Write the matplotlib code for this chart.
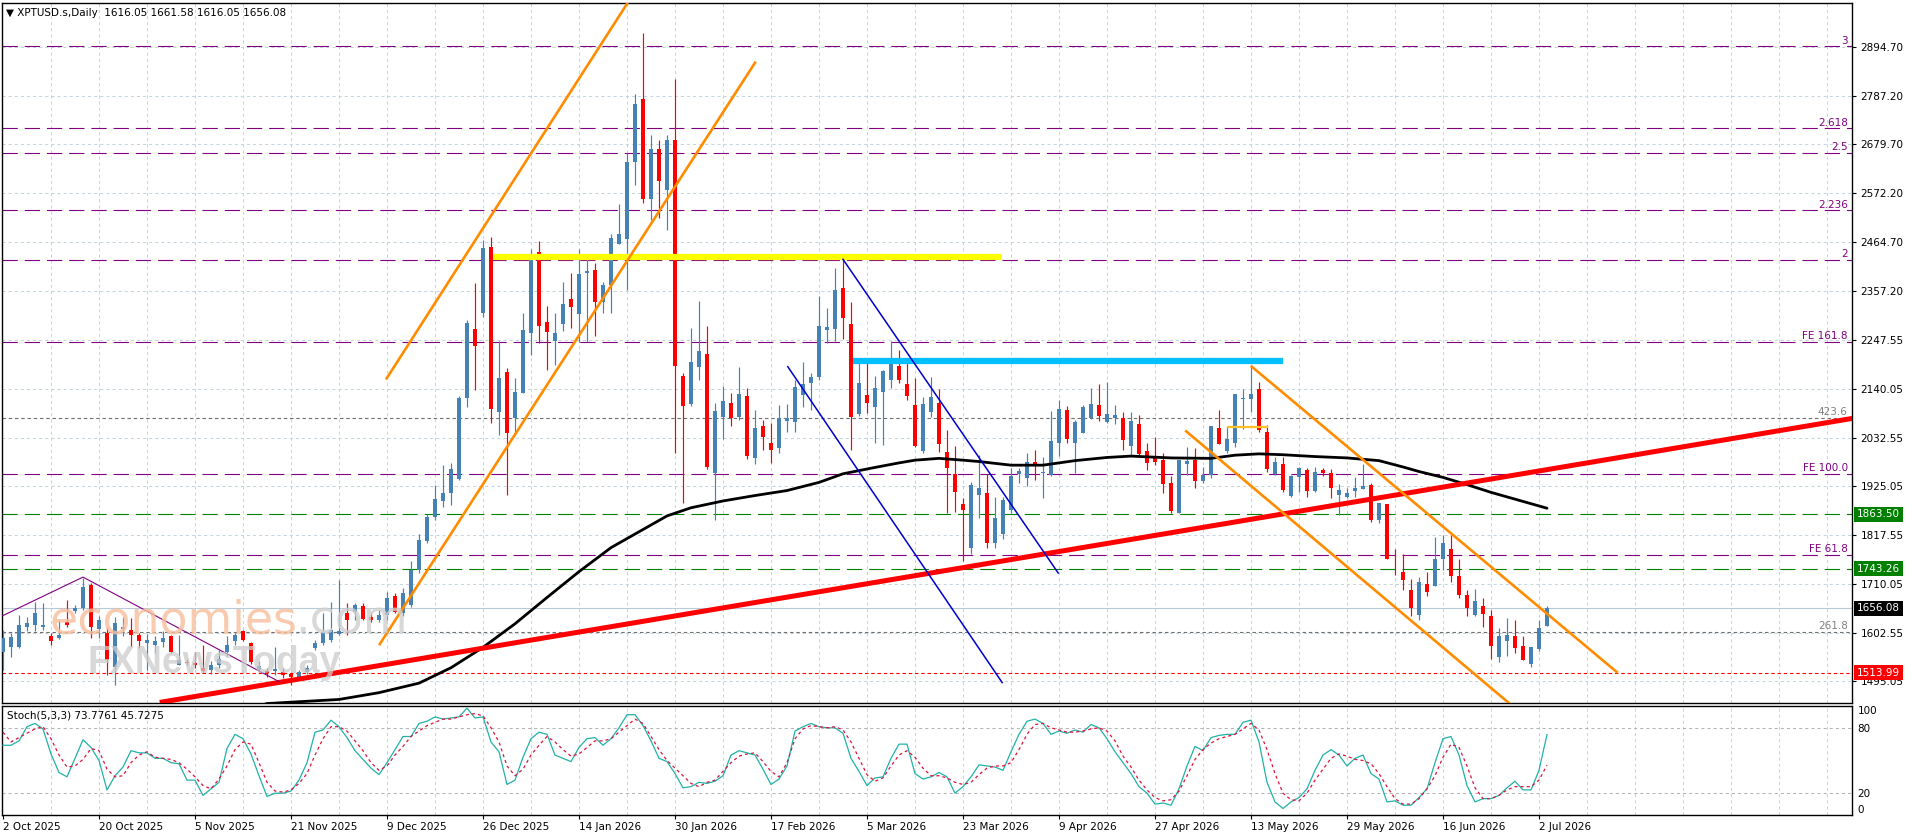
import numpy as np
import matplotlib.pyplot as plt
import matplotlib.transforms as mtransforms

plt.rcParams['font.family'] = ['DejaVu Sans']
plt.rcParams['lines.scale_dashes'] = False

# daily bars, bar 0 = 2 Oct 2025
opens = [1560, 1571, 1571, 1616, 1619, 1616, 1595, 1590, 1625, 1650,
         1656, 1708, 1610, 1601, 1527, 1610, 1608, 1597, 1580, 1575,
         1582, 1594, 1531, 1538, 1535, 1524, 1520, 1530, 1560, 1583,
         1605, 1579, 1520, 1518, 1518, 1516, 1512, 1502, 1516, 1568,
         1579, 1586, 1600, 1645, 1649, 1661, 1638, 1630, 1641, 1683,
         1645, 1663, 1741, 1805, 1858, 1894, 1910, 1941, 2121, 2272,
         2307, 2454, 2090, 2178, 2075, 2132, 2263, 2442, 2287, 2245,
         2283, 2339, 2306, 2395, 2403, 2333, 2370, 2461, 2472, 2640,
         2780, 2560, 2670, 2580, 2690, 2169, 2106, 2188, 2217, 1954,
         2079, 2110, 2079, 2125, 1987, 2058, 2022, 2009, 2070, 2068,
         2127, 2153, 2166, 2270, 2272, 2364, 2283, 2084, 2127, 2101,
         2134, 2160, 2191, 2151, 2105, 2004, 2090, 2110, 2002, 1952,
         1886, 1790, 1906, 1911, 1800, 1820, 1873, 1952, 1943, 1978,
         1955, 1950, 2022, 2094, 2022, 2044, 2075, 2105, 2068, 2075,
         2075, 2014, 2063, 2003, 1992, 1983, 1933, 1866, 1974, 1983,
         1936, 1950, 2053, 2004, 2022, 2118, 2118, 2140, 2046, 1952,
         1975, 1904, 1945, 1961, 1914, 1961, 1954, 1906, 1902, 1916,
         1919, 1928, 1852, 1886, 1755, 1737, 1696, 1641, 1710, 1705,
         1764, 1786, 1727, 1685, 1641, 1661, 1639, 1549, 1585, 1594,
         1574, 1533, 1567, 1616.05]
highs = [1608, 1601, 1641, 1638, 1671, 1667, 1601, 1630, 1675, 1663,
         1722, 1711, 1640, 1616, 1638, 1638, 1634, 1601, 1600, 1594,
         1605, 1597, 1597, 1545, 1560, 1575, 1540, 1565, 1595, 1601,
         1608, 1582, 1540, 1524, 1570, 1524, 1516, 1520, 1530, 1586,
         1645, 1671, 1719, 1667, 1667, 1667, 1645, 1652, 1693, 1689,
         1700, 1760, 1820, 1865, 1928, 1972, 1976, 2125, 2292, 2373,
         2469, 2475, 2245, 2186, 2164, 2307, 2450, 2467, 2323, 2307,
         2377, 2395, 2448, 2431, 2417, 2377, 2481, 2548, 2660, 2790,
         2925, 2700, 2690, 2700, 2825, 2176, 2274, 2334, 2278, 2110,
         2147, 2131, 2188, 2142, 2094, 2072, 2064, 2105, 2107, 2160,
         2200, 2176, 2345, 2318, 2406, 2426, 2331, 2198, 2198, 2169,
         2183, 2245, 2226, 2200, 2164, 2123, 2167, 2141, 2050, 2014,
         1899, 1935, 1994, 1952, 1902, 1902, 1965, 1965, 1998, 2005,
         1991, 2091, 2116, 2103, 2072, 2105, 2142, 2150, 2156, 2105,
         2090, 2089, 2083, 2022, 2035, 1999, 1947, 1983, 2013, 2009,
         1969, 2059, 2094, 2057, 2129, 2141, 2189, 2155, 2061, 1991,
         1991, 1950, 1969, 1965, 1969, 1965, 1963, 1930, 1921, 1945,
         1975, 1932, 1889, 1886, 1788, 1777, 1720, 1726, 1737, 1814,
         1818, 1818, 1764, 1696, 1698, 1678, 1652, 1612, 1634, 1630,
         1594, 1571, 1630, 1661.58]
lows = [1520, 1549, 1568, 1605, 1605, 1608, 1575, 1588, 1615, 1645,
        1652, 1590, 1590, 1509, 1487, 1594, 1571, 1568, 1520, 1557,
        1571, 1557, 1531, 1530, 1525, 1513, 1512, 1525, 1550, 1575,
        1583, 1534, 1515, 1505, 1510, 1502, 1487, 1500, 1512, 1564,
        1575, 1582, 1597, 1597, 1630, 1630, 1625, 1625, 1630, 1645,
        1640, 1660, 1735, 1800, 1850, 1880, 1884, 1939, 2101, 2138,
        2300, 2064, 2039, 1906, 2042, 2132, 2215, 2242, 2183, 2193,
        2267, 2274, 2244, 2244, 2256, 2307, 2307, 2461, 2359, 2590,
        2551, 2513, 2517, 2491, 1998, 1889, 2103, 2161, 1963, 1851,
        2029, 2059, 2072, 1985, 1974, 2005, 1976, 1998, 2046, 2046,
        2101, 2094, 2160, 2242, 2245, 2250, 2005, 2080, 2088, 2020,
        2016, 2142, 2154, 2116, 2013, 1998, 2079, 2002, 1866, 1868,
        1760, 1775, 1855, 1790, 1790, 1810, 1866, 1932, 1925, 1939,
        1899, 1947, 1992, 2020, 1955, 2042, 2073, 2070, 2066, 2063,
        2005, 1994, 1991, 1961, 1972, 1910, 1866, 1866, 1950, 1921,
        1932, 1943, 2018, 1999, 2011, 2051, 2090, 2046, 1958, 1950,
        1913, 1902, 1912, 1902, 1913, 1947, 1899, 1861, 1899, 1902,
        1919, 1847, 1844, 1764, 1730, 1697, 1639, 1630, 1683, 1705,
        1741, 1715, 1678, 1639, 1639, 1616, 1544, 1537, 1551, 1557,
        1542, 1526, 1563, 1616.05]
closes = [1590, 1593, 1619, 1623, 1645, 1620, 1583, 1597, 1620, 1656,
          1704, 1616, 1630, 1542, 1623, 1615, 1597, 1583, 1586, 1585,
          1590, 1560, 1542, 1535, 1532, 1518, 1530, 1545, 1575, 1597,
          1586, 1538, 1528, 1514, 1523, 1509, 1505, 1516, 1524, 1579,
          1601, 1608, 1606, 1630, 1663, 1632, 1630, 1641, 1678, 1649,
          1689, 1741, 1807, 1858, 1897, 1911, 1964, 2121, 2286, 2236,
          2452, 2095, 2164, 2042, 2134, 2270, 2438, 2279, 2266, 2263,
          2327, 2320, 2393, 2400, 2333, 2370, 2474, 2482, 2640, 2770,
          2560, 2670, 2600, 2690, 2191, 2103, 2199, 2224, 1967, 2091,
          2113, 2075, 2128, 1992, 2053, 2035, 2005, 2075, 2075, 2145,
          2151, 2167, 2279, 2277, 2359, 2297, 2079, 2154, 2110, 2143,
          2180, 2197, 2160, 2125, 2014, 2108, 2123, 2019, 1966, 1912,
          1873, 1928, 1921, 1800, 1855, 1895, 1947, 1960, 1980, 1974,
          1958, 2025, 2097, 2029, 2068, 2101, 2107, 2081, 2085, 2083,
          2027, 2069, 1996, 1977, 1980, 1930, 1871, 1983, 1981, 1938,
          1950, 2059, 2018, 2030, 2129, 2121, 2130, 2050, 1963, 1978,
          1917, 1947, 1965, 1916, 1958, 1955, 1921, 1917, 1910, 1921,
          1927, 1851, 1888, 1766, 1753, 1719, 1656, 1715, 1693, 1764,
          1801, 1727, 1685, 1657, 1673, 1644, 1574, 1594, 1597, 1569,
          1542, 1571, 1613, 1656.08]

# moving average (black line), read at a few bars
ma_bars = [25, 33, 42, 47, 52, 56, 60, 64, 68, 72, 76, 80, 83, 86, 90, 94, 98,
           102, 105, 109, 112, 114, 117, 120, 122, 126, 130, 134, 138, 141, 146,
           151, 154, 157, 160, 164, 168, 172, 175, 177, 180, 183, 186, 190, 193]
ma_vals = [1400, 1446, 1455, 1470, 1491, 1525, 1570, 1622, 1680, 1737, 1790, 1830,
           1860, 1878, 1893, 1905, 1916, 1934, 1953, 1967, 1977, 1983, 1987, 1983,
           1980, 1972, 1972, 1982, 1989, 1992, 1988, 1987, 1994, 1997, 1995, 1991,
           1988, 1982, 1968, 1958, 1945, 1929, 1912, 1892, 1877]

# Stoch(5,3,3)
stoch_k = [64, 64, 68, 81, 84, 79, 56, 39, 35, 52, 69, 62, 50, 23, 36, 44, 59, 57, 57, 52,
           52, 48, 47, 32, 32, 18, 24, 30, 61, 74, 70, 56, 36, 17, 20, 20, 22, 32, 48, 76,
           78, 87, 81, 71, 59, 51, 43, 37, 48, 60, 72, 72, 84, 86, 90, 88, 89, 90, 98, 89,
           90, 67, 58, 28, 32, 53, 70, 76, 74, 55, 52, 49, 62, 70, 71, 64, 70, 80, 92, 92,
           82, 68, 52, 49, 38, 25, 26, 30, 29, 31, 36, 55, 59, 57, 55, 42, 28, 33, 45, 77,
           81, 84, 81, 80, 80, 75, 52, 40, 27, 34, 35, 52, 65, 65, 38, 33, 35, 39, 35, 20,
           26, 35, 46, 45, 44, 41, 58, 74, 86, 88, 84, 74, 77, 75, 78, 76, 83, 80, 70, 58,
           48, 38, 26, 20, 10, 11, 9, 24, 45, 63, 59, 71, 73, 74, 74, 85, 87, 67, 30, 12,
           6, 12, 16, 24, 41, 55, 60, 55, 45, 52, 55, 38, 33, 12, 13, 9, 9, 16, 24, 48,
           70, 72, 55, 27, 12, 15, 15, 18, 25, 31, 23, 23, 41, 73.7761]
stoch_d = [76, 67, 71, 75, 79, 81, 70, 55, 44, 45, 51, 61, 59, 42, 35, 36, 48, 55, 58, 53,
           52, 51, 48, 42, 35, 27, 24, 33, 45, 60, 67, 65, 48, 30, 22, 21, 23, 29, 38, 55,
           70, 81, 81, 77, 68, 59, 48, 41, 45, 55, 63, 72, 77, 82, 85, 88, 88, 90, 92, 93,
           91, 80, 67, 45, 36, 42, 55, 64, 72, 67, 60, 54, 56, 62, 68, 68, 70, 76, 82, 88,
           84, 72, 60, 50, 43, 36, 29, 26, 30, 32, 40, 48, 54, 56, 57, 49, 40, 35, 48, 70,
           79, 82, 81, 80, 81, 78, 67, 52, 37, 31, 34, 45, 55, 59, 53, 43, 36, 36, 34, 30,
           28, 30, 37, 43, 45, 45, 48, 60, 74, 83, 84, 80, 78, 76, 76, 77, 79, 80, 77, 68,
           54, 44, 32, 23, 16, 13, 14, 22, 36, 51, 60, 66, 70, 72, 74, 79, 84, 78, 60, 38,
           20, 14, 13, 20, 32, 42, 52, 56, 54, 51, 50, 47, 38, 26, 15, 10, 10, 15, 24, 36,
           53, 65, 62, 45, 25, 15, 15, 18, 23, 26, 26, 26, 32, 45.7275]

date_labels = ['2 Oct 2025', '20 Oct 2025', '5 Nov 2025', '21 Nov 2025', '9 Dec 2025',
               '26 Dec 2025', '14 Jan 2026', '30 Jan 2026', '17 Feb 2026', '5 Mar 2026',
               '23 Mar 2026', '9 Apr 2026', '27 Apr 2026', '13 May 2026', '29 May 2026',
               '16 Jun 2026', '2 Jul 2026']
price_ticks = [2894.70, 2787.20, 2679.70, 2572.20, 2464.70, 2357.20, 2247.55, 2140.05,
               2032.55, 1925.05, 1817.55, 1710.05, 1602.55, 1495.05]

# fibo / expansion levels
fib_levels = [2896, 2715, 2660, 2534, 2425, 2244, 1952, 1774]
fib_names = ['3', '2.618', '2.5', '2.236', '2', 'FE 161.8', 'FE 100.0', 'FE 61.8']
gray_levels = [2076, 1604]
gray_names = ['423.6', '261.8']
green_levels = [1863.50, 1743.26]
support_level = 1513.99
last_price = 1656.08

# drawn objects: (bar, price) end points
up_upper = ([47.96, 78.0], [2163.6, 2990.0])
up_lower = ([47.1, 94.0], [1577.3, 2860.0])
down_upper = ([156.1, 201.7], [2189.3, 1515.8])
down_lower = ([147.9, 190.0], [2046.7, 1421.0])
blue_1 = ([105.0, 131.9], [2426.2, 1734.0])
blue_2 = ([98.1, 124.9], [2189.3, 1492.2])
red_trend = ([19.9, 231.1], [1449.4, 2075.0])
zigzag = ([-0.5, 10, 34.6], [1636, 1725, 1493.5])
yellow_zone = ([61.3, 124.9], [2431, 2431])
cyan_zone = ([106.3, 160.0], [2202, 2202])
gold_short = ([153.1, 158.0], [2057, 2057])

# ---------------------------------------------------------------
W, H = 1916, 840
fig = plt.figure(figsize=(W / 100, H / 100), dpi=100)


def box(x0, y0, x1, y1):
    return [x0 / W, 1 - y1 / H, (x1 - x0) / W, (y1 - y0) / H]


ax = fig.add_axes(box(2, 3, 1852, 703))
st = fig.add_axes(box(2, 706, 1852, 815), sharex=ax)

FS = 7.5
grid_c = '#c6d4de'
xmax = 231.125
ax.set_xlim(-0.125, xmax)
ax.set_ylim(1447.2, 2991.8)
st.set_ylim(0, 100)

for a in (ax, st):
    for s in a.spines.values():
        s.set_linewidth(1.0)
        s.set_color('black')
    for b in range(6, 232, 6):
        a.axvline(b, color=grid_c, lw=0.75, dashes=(2.2, 2.2), zorder=0.5)

for p in price_ticks:
    ax.axhline(p, color=grid_c, lw=0.75, dashes=(2.2, 2.2), zorder=0.5)

# horizontal levels
for lv in fib_levels:
    ax.axhline(lv, color='#800080', lw=0.8, dashes=(11, 5), zorder=1)
for lv in gray_levels:
    ax.axhline(lv, color='#707070', lw=0.8, dashes=(2.5, 2), zorder=1)
for lv in green_levels:
    ax.axhline(lv, color='#008000', lw=0.8, dashes=(11, 5), zorder=1)
ax.axhline(support_level, color='#ff0000', lw=0.8, dashes=(2.5, 2), zorder=1)
ax.axhline(last_price, color='#b8cad8', lw=0.8, zorder=1)

lab_x = 230.6
for lv, name in zip(fib_levels, fib_names):
    ax.text(lab_x, lv + 2, name, color='#800080', fontsize=FS, ha='right', va='bottom', zorder=2)
for lv, name in zip(gray_levels, gray_names):
    ax.text(lab_x, lv + 2, name, color='#808080', fontsize=FS, ha='right', va='bottom', zorder=2)

# candles
o = np.array(opens)
h = np.array(highs)
l = np.array(lows)
c = np.array(closes)
idx = np.arange(len(o))
cols = np.where(c >= o, '#4682b4', '#ff0000')
ax.vlines(idx, l, h, colors=cols, lw=0.85, zorder=3)
ax.bar(idx, np.maximum(np.abs(c - o), 2.0), bottom=np.minimum(o, c), width=0.62,
       color=cols, lw=0, zorder=4)

ax.plot(ma_bars, ma_vals, color='black', lw=2.0, zorder=5, solid_capstyle='round')

# objects
ax.plot(*yellow_zone, color='#ffff00', lw=4.5, zorder=6, solid_capstyle='butt')
ax.plot(*cyan_zone, color='#00bfff', lw=4.5, zorder=6, solid_capstyle='butt')
ax.plot(*gold_short, color='#ffc125', lw=1.6, zorder=6)
ax.plot(*red_trend, color='#ff0000', lw=3.6, zorder=6)
for ln in (up_upper, up_lower, down_upper, down_lower):
    ax.plot(*ln, color='#ff8c00', lw=1.9, zorder=6)
for ln in (blue_1, blue_2):
    ax.plot(*ln, color='#0000cd', lw=1.1, zorder=6)
ax.plot(*zigzag, color='#800080', lw=0.8, zorder=6)

# price scale
ax.yaxis.tick_right()
ax.set_yticks(price_ticks)
ax.set_yticklabels([f'{p:.2f}' for p in price_ticks])
ax.tick_params(axis='y', length=3, width=0.8, pad=3, labelsize=FS, colors='black')
ax.tick_params(axis='x', length=0, labelbottom=False)

trans = mtransforms.blended_transform_factory(ax.transAxes, ax.transData)
for val, fc in [(1863.50, '#008000'), (1743.26, '#008000'), (1656.08, '#000000'), (1513.99, '#ff0000')]:
    ax.text(1.0 + 5 / 1850, val, f'{val:.2f}', transform=trans, color='white', fontsize=FS,
            ha='left', va='center', clip_on=False, zorder=10,
            bbox=dict(boxstyle='square,pad=0.25', fc=fc, ec='none'))

# stochastic
st.plot(idx, stoch_k, color='#20b2aa', lw=0.9, zorder=3)
st.plot(idx, stoch_d, color='#dc143c', lw=0.9, dashes=(2.2, 2.2), zorder=3)
for lv in (80, 20):
    st.axhline(lv, color='#b4b4b4', lw=0.75, dashes=(2.2, 2.2), zorder=0.5)
st.yaxis.tick_right()
st.set_yticks([0, 20, 80, 100])
st.set_yticklabels(['0', '20', '80', '100'])
st.tick_params(axis='y', length=0, pad=4, labelsize=FS)
tl = st.get_yticklabels()
tl[0].set_va('bottom')
tl[3].set_va('top')

st.set_xticks(np.arange(0, 193, 12))
st.set_xticklabels(date_labels, ha='left')
st.tick_params(axis='x', length=3, width=0.8, pad=2, labelsize=FS)

fig.text(6 / W, 1 - 13 / H, '\u25bc XPTUSD.s,Daily  1616.05 1661.58 1616.05 1656.08',
         fontsize=FS, va='center', ha='left')
fig.text(7 / W, 1 - 716 / H, 'Stoch(5,3,3) 73.7761 45.7275', fontsize=FS, va='center', ha='left')

# watermark
fig.text(50 / W, 1 - 633 / H, 'economies', fontsize=33, color='#f7bf9c', alpha=0.8,
         ha='left', va='baseline', zorder=20)
fig.text(295 / W, 1 - 633 / H, '.com', fontsize=33, color='#cfcfcf', alpha=0.8,
         ha='left', va='baseline', zorder=20)
fig.text(88 / W, 1 - 673 / H, 'FXNewsToday', fontsize=27, color='#cccccc', alpha=0.75,
         family=['Liberation Sans'], weight='bold', ha='left', va='baseline', zorder=20)

fig.savefig('out.png', dpi=100, facecolor='white')
